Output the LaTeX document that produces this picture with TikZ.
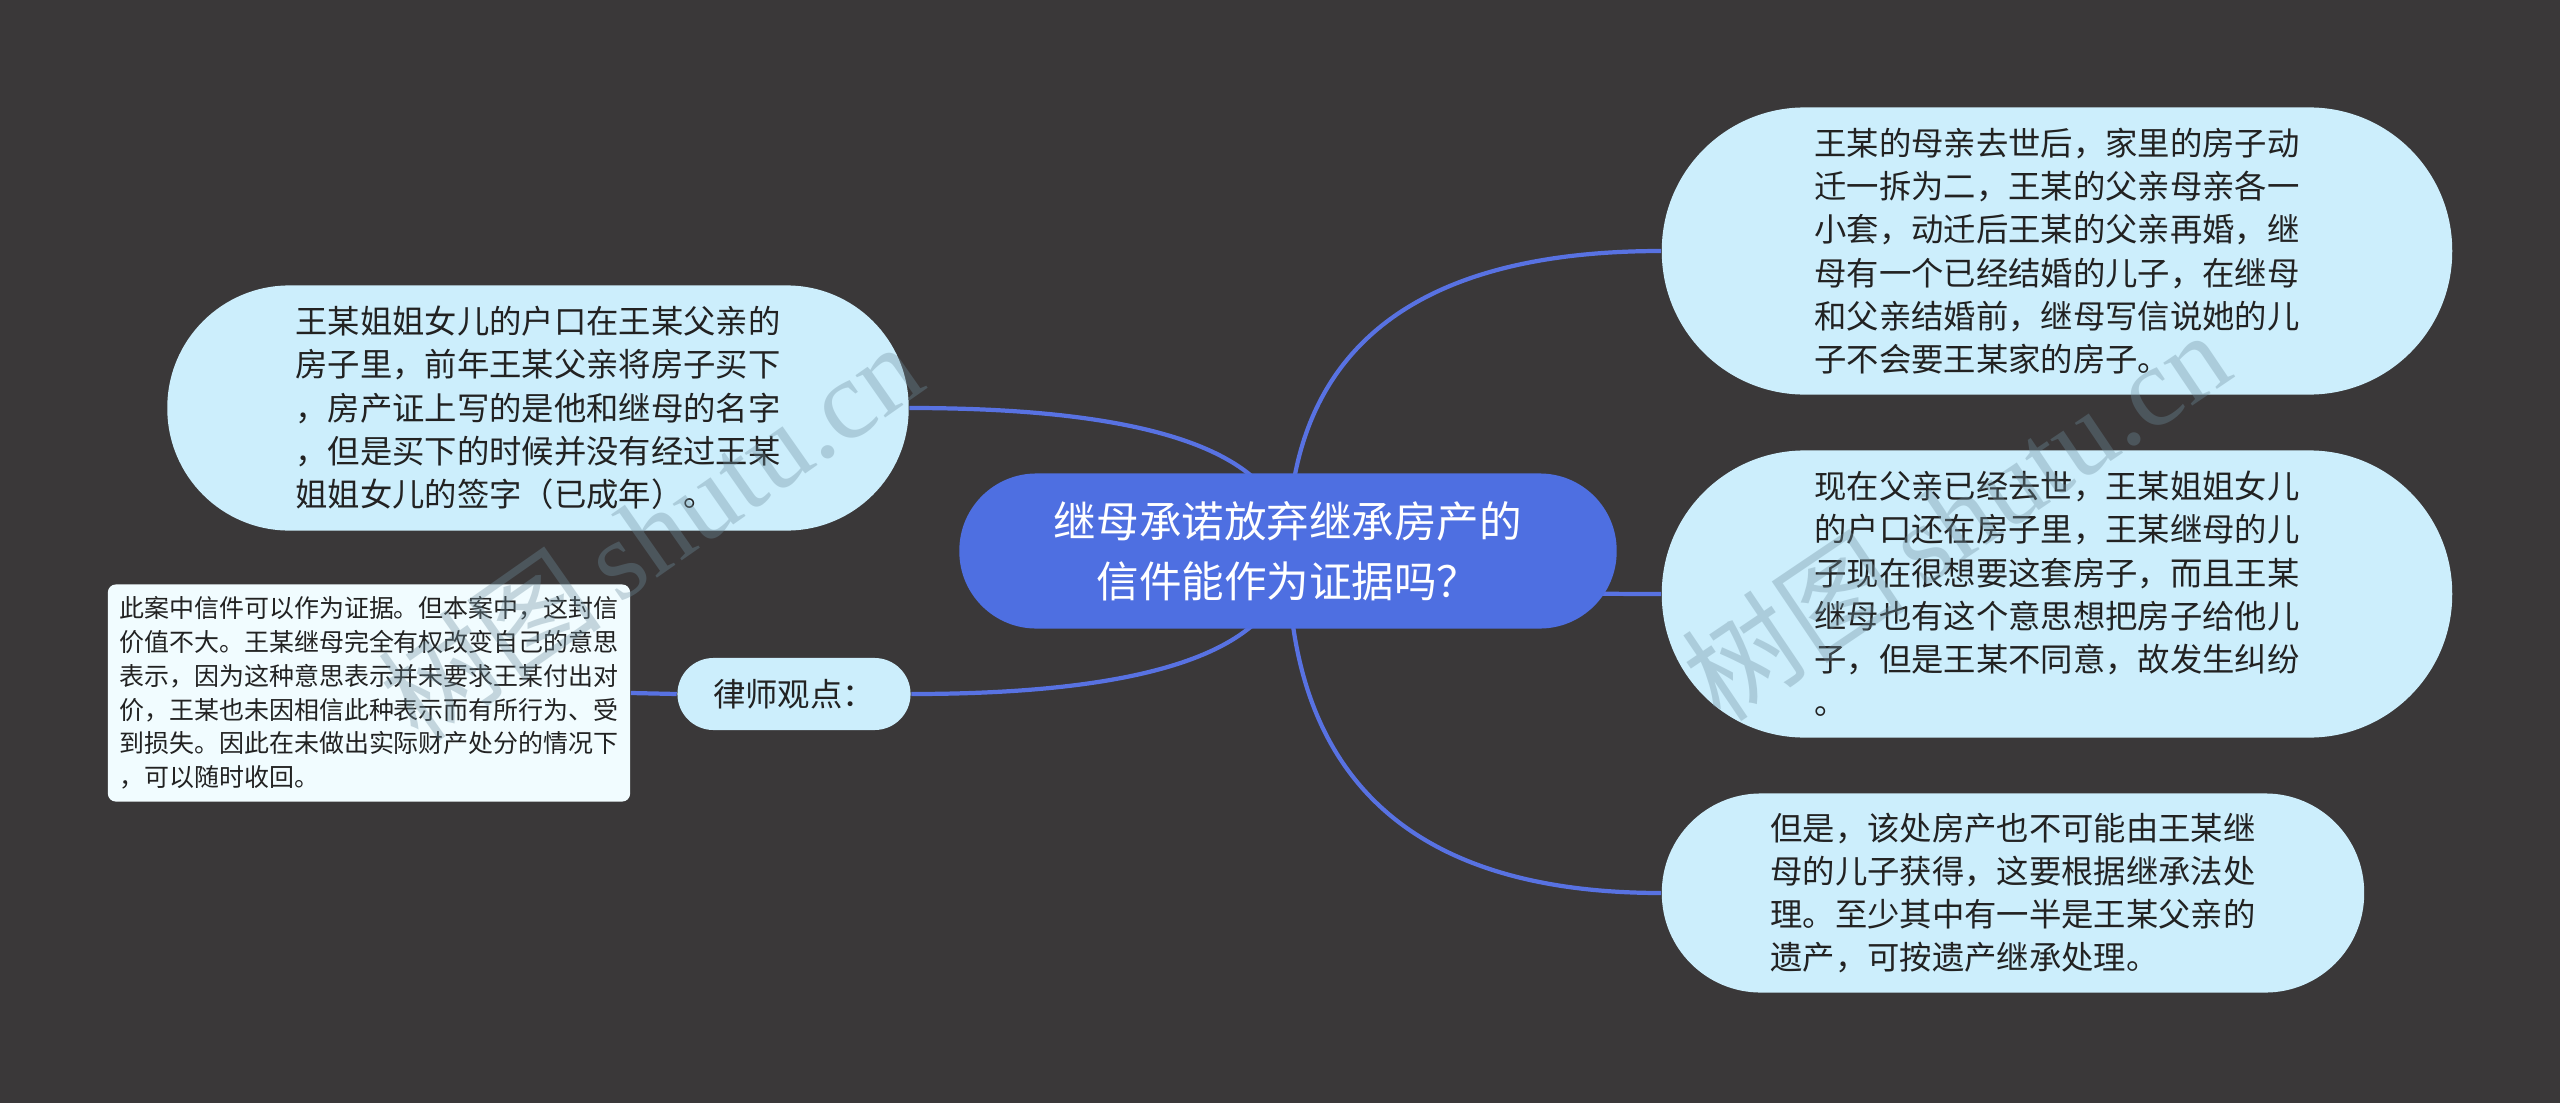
\documentclass[tikz,border=0pt]{standalone}
\usepackage{fontspec}
\setmainfont{Noto Sans CJK SC}
\newfontfamily\wmfont{Liberation Serif}
\usetikzlibrary{calc}

\definecolor{bgdark}{HTML}{3A3839}
\definecolor{rootblue}{HTML}{4E6FE1}
\definecolor{wireblue}{HTML}{5872E2}
\definecolor{leafcyan}{HTML}{CCEEFC}
\definecolor{notewhite}{HTML}{F1FCFF}
\definecolor{inkdark}{HTML}{222222}
\definecolor{wmgray}{HTML}{6F8F9F}

\pgfdeclarelayer{back}
\pgfdeclarelayer{wires}
\pgfsetlayers{back,wires,main}

\tikzset{
  rootnode/.style={fill=rootblue, text=white, align=center, inner sep=0pt,
    minimum width=6.57cm, minimum height=1.55cm, rounded corners=0.77cm,
    font=\fontsize{12.1pt}{17pt}\selectfont},
  leafnode/.style={fill=leafcyan, text=inkdark, align=left, inner sep=0pt,
    font=\fontsize{9.2pt}{12.3pt}\selectfont},
  notebox/.style={fill=notewhite, text=inkdark, align=left, inner sep=0pt,
    minimum width=5.22cm, minimum height=2.17cm, rounded corners=0.08cm,
    font=\fontsize{7.1pt}{9.6pt}\selectfont},
  branch/.style={draw=wireblue, line width=1.2pt,
    to path={.. controls ($(\tikztostart)!2/3!(\tikztostart|-\tikztotarget)$)
      and ($(\tikztotarget)!2/3!(\tikztostart|-\tikztotarget)$) .. (\tikztotarget) \tikztonodes}},
  wmark/.style={text=wmgray, text opacity=0.35, font=\fontsize{32pt}{32pt}\selectfont}
}

\begin{document}
\begin{tikzpicture}[x=0.01cm,y=-0.01cm]
\useasboundingbox (0,0) rectangle (2560,1103);
\begin{pgfonlayer}{back}
\fill[bgdark] (0,0) rectangle (2560,1103);
\end{pgfonlayer}

% centre
\node[rootnode] (root) at (1288,551) {继母承诺放弃继承房产的\\信件能作为证据吗？};

% right side
\node[leafnode, minimum width=7.9cm, minimum height=2.87cm, rounded corners=1.43cm] (past) at (2057,251)
  {王某的母亲去世后，家里的房子动\\迁一拆为二，王某的父亲母亲各一\\小套，动迁后王某的父亲再婚，继\\母有一个已经结婚的儿子，在继母\\和父亲结婚前，继母写信说她的儿\\子不会要王某家的房子。};
\node[leafnode, minimum width=7.9cm, minimum height=2.87cm, rounded corners=1.43cm] (dispute) at (2057,594)
  {现在父亲已经去世，王某姐姐女儿\\的户口还在房子里，王某继母的儿\\子现在很想要这套房子，而且王某\\继母也有这个意思想把房子给他儿\\子，但是王某不同意，故发生纠纷\\。};
\node[leafnode, minimum width=7.02cm, minimum height=1.99cm, rounded corners=0.99cm] (estate) at (2013,893)
  {但是，该处房产也不可能由王某继\\母的儿子获得，这要根据继承法处\\理。至少其中有一半是王某父亲的\\遗产，可按遗产继承处理。};

% left side
\node[leafnode, minimum width=7.41cm, minimum height=2.45cm, rounded corners=1.22cm] (record) at (538,408)
  {王某姐姐女儿的户口在王某父亲的\\房子里，前年王某父亲将房子买下\\，房产证上写的是他和继母的名字\\，但是买下的时候并没有经过王某\\姐姐女儿的签字（已成年）。};
\node[leafnode, minimum width=2.33cm, minimum height=0.72cm, rounded corners=0.36cm] (lawyer) at (794,694) {律师观点：};
\node[notebox] (opinion) at (369,693)
  {此案中信件可以作为证据。但本案中，这封信\\价值不大。王某继母完全有权改变自己的意思\\表示，因为这种意思表示并未要求王某付出对\\价，王某也未因相信此种表示而有所行为、受\\到损失。因此在未做出实际财产处分的情况下\\，可以随时收回。};

\begin{pgfonlayer}{wires}
\draw[branch] (root.center) to (past.west);
\draw[branch] (root.center) to (dispute.west);
\draw[branch] (root.center) to (estate.west);
\draw[branch] (root.center) to (record.east);
\draw[branch] (root.center) to (lawyer.east);
\draw[branch] (opinion.east) -- (lawyer.west);
\end{pgfonlayer}

% watermark
\node[wmark, rotate=35] (wmleft) at (650,531) {树图\,{\wmfont shutu.cn}};
\node[wmark, rotate=34] (wmright) at (1955,515) {树图\,{\wmfont shutu.cn}};
\end{tikzpicture}
\end{document}
